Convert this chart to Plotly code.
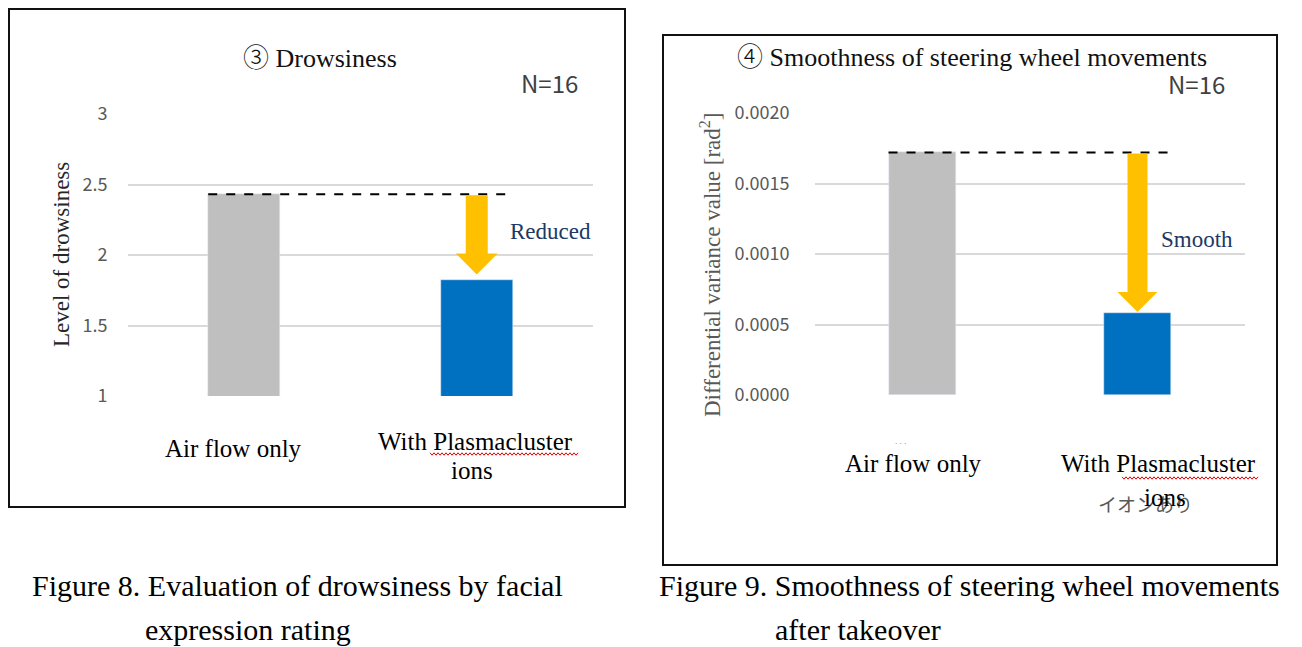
import plotly.graph_objects as go

W, H = 1302, 647
OX, OY = 8, 8  # page offset compensation (pixels)

# ---------------- data ----------------
categories = ["Air flow only", "With Plasmacluster<br>ions"]
drowsiness = [2.43, 1.82]
steering = [0.00172, 0.000582]
bar_colors = ["#BFBFBF", "#0070C0"]
drowsiness_ticks = [1, 1.5, 2, 2.5, 3]
drowsiness_ticktext = ["1", "1.5", "2", "2.5", "3"]
steering_ticks = [0.0, 0.0005, 0.0010, 0.0015, 0.0020]
steering_ticktext = ["0.0000", "0.0005", "0.0010", "0.0015", "0.0020"]
n_label = "N=16"

SERIF = "Liberation Serif, Times New Roman, serif"
SANS = "Noto Sans CJK JP, Noto Sans, sans-serif"


def px(x):
    return (x - OX) / W


def py(y):
    return 1 - (y - OY) / H


# plot-area geometry (pixels)
L = dict(x0=128, x1=593, y0=396, y1=114, r=(1, 3))
R = dict(x0=815, x1=1245, y0=395, y1=113, r=(0, 0.002))
XR = (-0.5, 1.5)


def ux(g):  # data units per pixel (x)
    return (XR[1] - XR[0]) / (g["x1"] - g["x0"])


def uy(g):  # data units per pixel (y)
    return (g["r"][1] - g["r"][0]) / (g["y0"] - g["y1"])


fig = go.Figure()
fig.add_trace(go.Bar(x=[0, 1], y=drowsiness, marker_color=bar_colors, width=0.31,
                     xaxis="x", yaxis="y", showlegend=False, hoverinfo="skip"))
fig.add_trace(go.Bar(x=[0, 1], y=steering, marker_color=bar_colors, width=0.316,
                     xaxis="x2", yaxis="y2", showlegend=False, hoverinfo="skip"))

axis_common = dict(showline=False, zeroline=False, fixedrange=True, automargin=False)
fig.update_layout(
    width=W, height=H, margin=dict(l=0, r=0, t=0, b=0, pad=0, autoexpand=False),
    paper_bgcolor="white", plot_bgcolor="white", bargap=0,
    xaxis=dict(domain=[px(L["x0"]), px(L["x1"])], range=list(XR), showgrid=False,
               showticklabels=False, anchor="y", **axis_common),
    yaxis=dict(domain=[py(L["y0"]), py(L["y1"])], range=list(L["r"]), anchor="x",
               tickvals=drowsiness_ticks, ticktext=drowsiness_ticktext,
               showgrid=True, gridcolor="#D9D9D9", gridwidth=2,
               ticks="outside", ticklen=16, tickcolor="rgba(0,0,0,0)",
               tickfont=dict(family=SANS, size=18, color="#595959"), **axis_common),
    xaxis2=dict(domain=[px(R["x0"]), px(R["x1"])], range=list(XR), showgrid=False,
                showticklabels=False, anchor="y2", **axis_common),
    yaxis2=dict(domain=[py(R["y0"]), py(R["y1"])], range=list(R["r"]), anchor="x2",
                tickvals=steering_ticks, ticktext=steering_ticktext,
                showgrid=True, gridcolor="#D9D9D9", gridwidth=2,
                ticks="outside", ticklen=21, tickcolor="rgba(0,0,0,0)",
                tickfont=dict(family=SANS, size=18, color="#595959"), **axis_common),
)

shapes = []
# frames around each chart
shapes.append(dict(type="rect", xref="paper", yref="paper", x0=px(9), x1=px(625),
                   y0=py(507), y1=py(9), line=dict(color="#111", width=2)))
shapes.append(dict(type="rect", xref="paper", yref="paper", x0=px(663), x1=px(1277),
                   y0=py(565), y1=py(35), line=dict(color="#111", width=2)))


def arrow_and_dash(vals, g, xa, ya, bw, dash_end_px, shaft_px, head_px, head_h_px, gap_px):
    top, low = vals
    # dashed reference line from first bar's top across
    shapes.append(dict(type="line", xref=xa, yref=ya, x0=0 - bw / 2,
                       x1=0 - bw / 2 + dash_end_px * ux(g), y0=top, y1=top,
                       line=dict(color="black", width=2, dash="dash")))
    sx = shaft_px / 2 * ux(g)
    hx = head_px / 2 * ux(g)
    tip = low + gap_px * uy(g)
    base = tip + head_h_px * uy(g)
    stop = top - 1 * uy(g)
    path = (f"M {1 - sx},{stop} L {1 + sx},{stop} L {1 + sx},{base} L {1 + hx},{base} "
            f"L 1,{tip} L {1 - hx},{base} L {1 - sx},{base} Z")
    shapes.append(dict(type="path", xref=xa, yref=ya, path=path,
                       fillcolor="#FFC000", line=dict(width=0)))


arrow_and_dash(drowsiness, L, "x", "y", 0.31, 306, 22, 42, 21, 6)
arrow_and_dash(steering, R, "x2", "y2", 0.316, 280, 20, 40, 20, 1)


# red wavy spell-check underlines
def wavy(x0, x1, y):
    pts = []
    x = x0
    k = 0
    while x <= x1:
        pts.append((x, y + (1.2 if k % 2 else -1.2)))
        x += 2
        k += 1
    d = "M " + " L ".join(f"{px(a)},{py(b)}" for a, b in pts)
    shapes.append(dict(type="path", xref="paper", yref="paper", path=d,
                       line=dict(color="#E00000", width=1)))


wavy(430, 578, 454)
wavy(1122, 1259, 478)
fig.update_layout(shapes=shapes)

ann = []


def text(x, y, s, size, color="black", family=SERIF, xanchor="center", **kw):
    ann.append(dict(x=px(x), y=py(y), xref="paper", yref="paper", text=s,
                    showarrow=False, xanchor=xanchor, yanchor="middle",
                    font=dict(family=family, size=size, color=color), **kw))


CIRC = '<span style="font-family:Noto Sans CJK JP;font-weight:300">{}</span>'

# titles
text(320, 55, CIRC.format("③") + " Drowsiness", 26, "#111")
text(972, 54, CIRC.format("④") + " Smoothness of steering wheel movements", 26, "#111")
text(580, 83, n_label, 24, "#404040", SANS, xanchor="right")
text(1227, 84, n_label, 24, "#404040", SANS, xanchor="right")

# y-axis titles
text(61, 255, "Level of drowsiness", 23, "#262626", textangle=-90)
text(710, 265, "Differential variance value [rad<sup>2</sup>]", 23, "#595959", textangle=-90)

# category labels
cat_lines = [c.split("<br>") for c in categories]
text(234, 448, cat_lines[0][0], 25)
text(475, 441, cat_lines[1][0], 25)
text(472, 470, cat_lines[1][1], 25)
text(913, 463, cat_lines[0][0], 25)
text(1158, 463, cat_lines[1][0], 25)
text(1145, 503, "イオンあり", 19, "#595959", SANS)
text(1165, 497, cat_lines[1][1], 25)
text(900, 443, "···", 8, "#999999", SANS)

# arrow labels
text(550, 231, "Reduced", 23, "#203864")
text(1197, 239, "Smooth", 23, "#203864")

# captions
text(297, 585, "Figure 8. Evaluation of drowsiness by facial", 30)
text(248, 629, "expression rating", 30)
text(970, 585, "Figure 9. Smoothness of steering wheel movements", 30)
text(858, 629, "after takeover", 30)

fig.update_layout(annotations=ann)
fig.write_html("out.html")
